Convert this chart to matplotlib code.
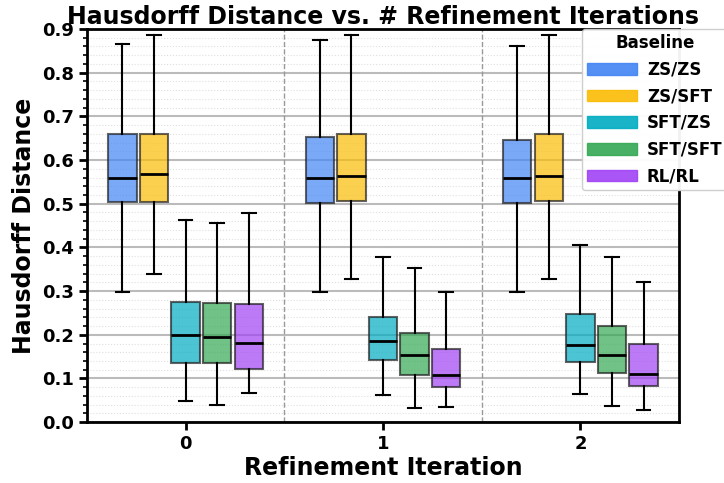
import matplotlib
matplotlib.use("Agg")
import matplotlib.pyplot as plt
from matplotlib.patches import Patch
from matplotlib.ticker import MultipleLocator

# Box statistics, per iteration (0, 1, 2)
iterations = [0, 1, 2]
baselines = ["ZS/ZS", "ZS/SFT", "SFT/ZS", "SFT/SFT", "RL/RL"]
colors = ["#4285F4", "#FBBC05", "#00ACC1", "#34A853", "#A142F4"]

# each list: values for iteration 0, 1, 2
whislo = {
    "ZS/ZS": [0.298, 0.298, 0.298],
    "ZS/SFT": [0.340, 0.327, 0.327],
    "SFT/ZS": [0.048, 0.063, 0.065],
    "SFT/SFT": [0.039, 0.032, 0.038],
    "RL/RL": [0.066, 0.035, 0.027],
}
q1 = {
    "ZS/ZS": [0.503, 0.502, 0.502],
    "ZS/SFT": [0.505, 0.506, 0.506],
    "SFT/ZS": [0.135, 0.143, 0.137],
    "SFT/SFT": [0.135, 0.107, 0.112],
    "RL/RL": [0.122, 0.081, 0.083],
}
med = {
    "ZS/ZS": [0.559, 0.559, 0.559],
    "ZS/SFT": [0.568, 0.563, 0.564],
    "SFT/ZS": [0.199, 0.185, 0.177],
    "SFT/SFT": [0.196, 0.154, 0.153],
    "RL/RL": [0.181, 0.108, 0.110],
}
q3 = {
    "ZS/ZS": [0.660, 0.653, 0.647],
    "ZS/SFT": [0.660, 0.660, 0.660],
    "SFT/ZS": [0.274, 0.240, 0.247],
    "SFT/SFT": [0.273, 0.205, 0.221],
    "RL/RL": [0.270, 0.168, 0.179],
}
whishi = {
    "ZS/ZS": [0.866, 0.875, 0.860],
    "ZS/SFT": [0.887, 0.887, 0.887],
    "SFT/ZS": [0.462, 0.379, 0.405],
    "SFT/SFT": [0.456, 0.353, 0.379],
    "RL/RL": [0.478, 0.298, 0.321],
}

plt.rcParams["font.family"] = "DejaVu Sans"
plt.rcParams["font.weight"] = "bold"

fig = plt.figure(figsize=(7.24, 4.83), dpi=100)
ax = fig.add_axes([0.120, 0.126, 0.818, 0.814])

step = 0.16
for j, name in enumerate(baselines):
    offset = (j - 2) * step
    stats = []
    for i, it in enumerate(iterations):
        stats.append(dict(whislo=whislo[name][i], q1=q1[name][i], med=med[name][i],
                          q3=q3[name][i], whishi=whishi[name][i], fliers=[]))
    pos = [it + offset for it in iterations]
    ax.bxp(stats, positions=pos, widths=0.143, patch_artist=True, showfliers=False,
           boxprops=dict(facecolor=colors[j], alpha=0.7, edgecolor="#222222", linewidth=1.5),
           medianprops=dict(color="black", linewidth=2),
           whiskerprops=dict(color="black", linewidth=1.5),
           capprops=dict(color="black", linewidth=1.5),
           capwidths=0.07, zorder=3)

ax.set_xlim(-0.5, 2.5)
ax.set_ylim(0, 0.9)
ax.set_xticks(iterations)
ax.set_xticklabels([str(i) for i in iterations])
ax.yaxis.set_major_locator(MultipleLocator(0.1))
ax.yaxis.set_minor_locator(MultipleLocator(0.02))
ax.grid(axis="y", which="major", color="#bbbbbb", linewidth=1.5, zorder=0)
ax.grid(axis="y", which="minor", color="#e0e0e0", linestyle=":", linewidth=0.8, zorder=0)
ax.set_axisbelow(True)
for x in [0.5, 1.5]:
    ax.axvline(x, color="#999999", linestyle="--", linewidth=1, zorder=1)

for s in ax.spines.values():
    s.set_linewidth(2)
ax.tick_params(axis="both", which="major", labelsize=13, width=2, length=6)
ax.tick_params(axis="y", which="minor", width=1.2, length=3)
for lab in ax.get_xticklabels() + ax.get_yticklabels():
    lab.set_fontweight("bold")

ax.set_title("Hausdorff Distance vs. # Refinement Iterations", fontsize=17, fontweight="bold", pad=3)
ax.set_xlabel("Refinement Iteration", fontsize=17, fontweight="bold", labelpad=2)
ax.set_ylabel("Hausdorff Distance", fontsize=17, fontweight="bold")

handles = [Patch(facecolor=c, edgecolor=c, alpha=0.9) for c in colors]
leg = ax.legend(handles, baselines, title="Baseline", loc="upper left",
                bbox_to_anchor=(0.836, 1.0), borderaxespad=0, borderpad=0.3,
                handletextpad=0.6, labelspacing=0.52,
                prop=dict(size=12, weight="bold"), title_fontproperties=dict(size=12, weight="bold"),
                handlelength=3.0, framealpha=0.95)

fig.savefig("out.png", dpi=100)
